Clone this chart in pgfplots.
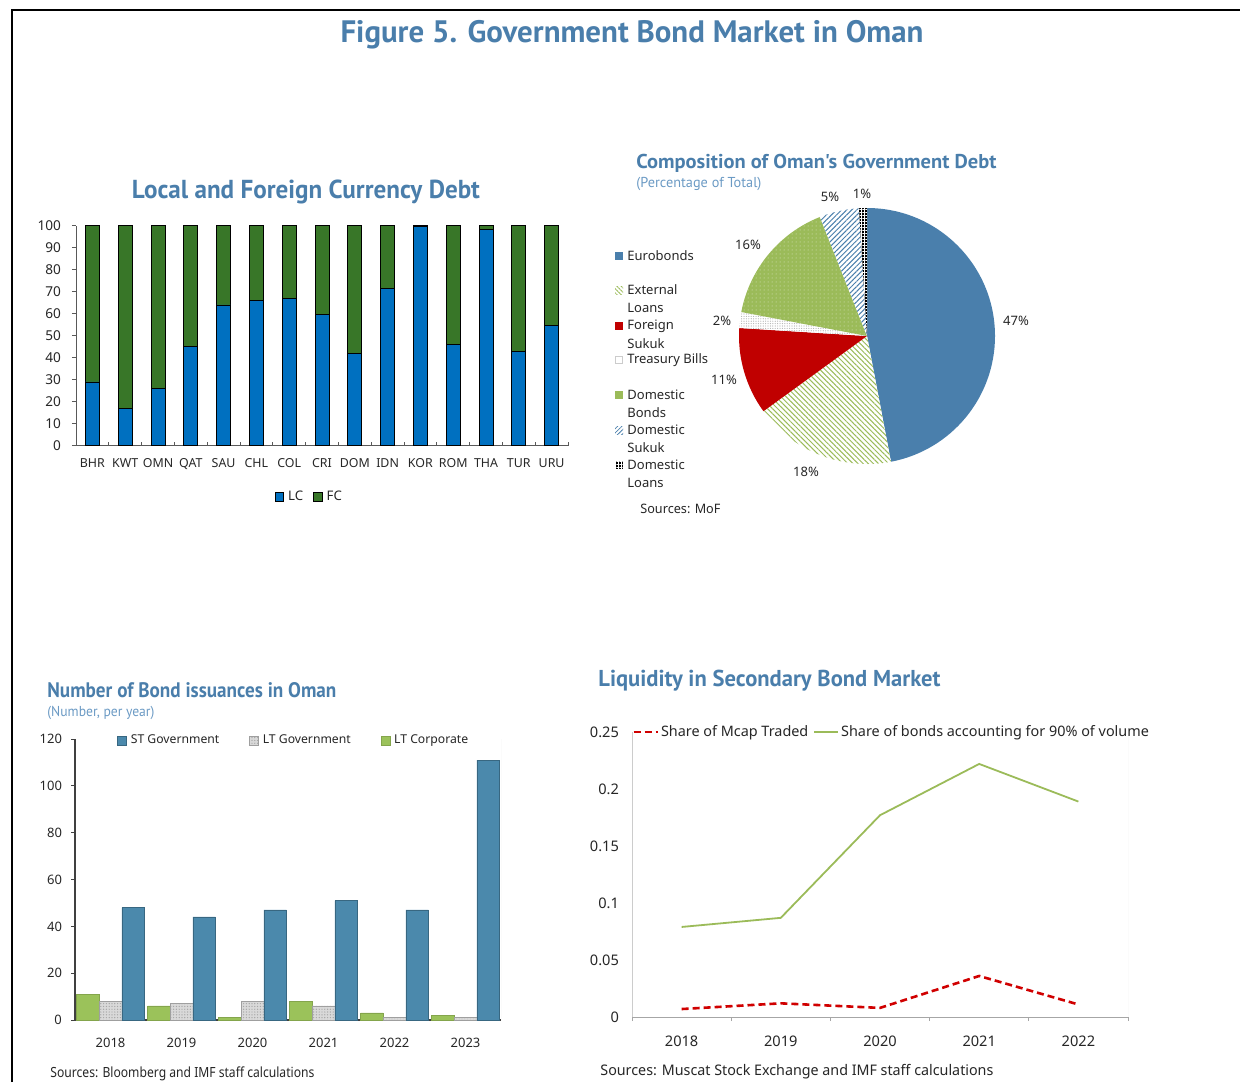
\documentclass[border=0pt]{standalone}
\usepackage{graphicx}
\usepackage{pgfplots}
\pgfplotsset{compat=1.18}
\usepackage{fontspec}
\usetikzlibrary{patterns,patterns.meta}
\setmainfont{Noto Sans}
\newfontfamily\titlefont{PT Sans}

\definecolor{titleblue}{HTML}{4A7EAB}
\definecolor{subblue}{HTML}{6B9AC4}
\definecolor{txt}{HTML}{262626}
\definecolor{lcblue}{HTML}{0070C0}
\definecolor{fcgreen}{HTML}{387628}
\definecolor{pieblue}{HTML}{4A7FAC}
\definecolor{piered}{HTML}{C00000}
\definecolor{piegreen}{HTML}{9BBB59}
\definecolor{stblue}{HTML}{4B89AC}
\definecolor{corpgreen}{HTML}{9BC25A}
\definecolor{linered}{HTML}{D00000}

\pgfplotsset{
  /pgf/number format/assume math mode=true,
  sqlegend/.style={legend image code/.code={\draw[##1] (0pt,-2.2pt) rectangle (4.4pt,2.2pt);}},
}
\newcommand\fitw[2]{\resizebox{#1}{\height}{#2}}
% one pie slice: start (cumulative %), share (%), style
\newcommand\slice[3]{\path[#3] (axis cs:0,0) -- ++({90-3.6*#1}:64pt)
  arc[start angle={90-3.6*#1}, end angle={90-3.6*(#1+#2)}, radius=64pt] -- cycle;}

\begin{document}
\begin{tikzpicture}[x=0.5pt,y=0.5pt, every node/.style={text=txt}]
\path[use as bounding box] (0,0) rectangle (1240,-1082);
\draw[line width=1pt] (12,-1082) -- (12,-10) -- (1240,-10);

\node[text=titleblue] at (632,-35) {\fitw{291.5pt}{\titlefont\bfseries\fontsize{15.5}{18}\selectfont Figure 5. Government Bond Market in Oman}};

% ---------- local and foreign currency debt
\node[text=titleblue] at (306,-192) {\fitw{174pt}{\titlefont\bfseries\fontsize{13}{15}\selectfont Local and Foreign Currency Debt}};
\begin{axis}[
    at={(38pt,-222.85pt)}, anchor=south west, scale only axis,
    width=246pt, height=110pt,
    xmin=-0.5, xmax=14.5, ymin=0, ymax=100,
    ybar stacked, bar width=7pt,
    axis x line*=bottom, axis y line*=left,
    axis line style={draw=black!65, line width=0.5pt},
    xtick={-0.5,0.5,...,14.5}, x tick label as interval,
    xticklabels={BHR,KWT,OMN,QAT,SAU,CHL,COL,CRI,DOM,IDN,KOR,ROM,THA,TUR,URU},
    ytick={0,10,...,100},
    tick style={draw=black!65, line width=0.5pt}, major tick length=2pt,
    xtick align=inside, ytick align=outside,
    tick label style={font=\fontsize{6.8}{8}\selectfont, text=txt},
    x tick label style={yshift=-3pt, font=\fontsize{6.2}{8}\selectfont},
    y tick label style={xshift=-2pt},
    legend style={at={(0.476,-0.233)}, anchor=center, draw=none, fill=none,
      legend columns=2, font=\fontsize{6.6}{8}\selectfont,
      /tikz/every even column/.append style={column sep=3pt}},
  ]
  \addplot[fill=lcblue, draw=black, line width=0.4pt, sqlegend] coordinates {
    (0,29) (1,17) (2,26) (3,45) (4,64) (5,66) (6,67) (7,59.5) (8,42) (9,71.5)
    (10,99.5) (11,46) (12,98.5) (13,43) (14,54.5)};
  \addlegendentry{LC}
  \addplot[fill=fcgreen, draw=black, line width=0.4pt, sqlegend] coordinates {
    (0,71) (1,83) (2,74) (3,55) (4,36) (5,34) (6,33) (7,40.5) (8,58) (9,28.5)
    (10,0.5) (11,54) (12,1.5) (13,57) (14,45.5)};
  \addlegendentry{FC}
\end{axis}

% ---------- composition pie
\node[anchor=west, inner sep=0, text=titleblue] at (636,-163) {\fitw{180pt}{\titlefont\bfseries\fontsize{10}{12}\selectfont Composition of Oman's Government Debt}};
\node[anchor=west, inner sep=0, text=subblue] at (636,-184) {\fitw{62.5pt}{\titlefont\fontsize{7.2}{9}\selectfont (Percentage of Total)}};
\begin{axis}[
    at={(433.5pt,-168pt)}, anchor=center, scale only axis,
    width=128pt, height=128pt,
    xmin=-1, xmax=1, ymin=-1, ymax=1, hide axis, clip=false,
  ]
  \slice{0}{47}{fill=pieblue}
  \slice{47}{18}{fill=white, postaction={pattern={Lines[angle=-45,distance=1.8pt,line width=0.5pt]}, pattern color=piegreen}}
  \slice{65}{11}{fill=piered}
  \slice{76}{2}{fill=white, postaction={pattern={Dots[distance=1.2pt,radius=0.3pt]}, pattern color=gray!60}}
  \slice{78}{16}{fill=piegreen, postaction={pattern={Dots[distance=2pt,radius=0.25pt]}, pattern color=white!70!piegreen}}
  \slice{94}{5}{fill=white, postaction={pattern={Lines[angle=45,distance=1.8pt,line width=0.5pt]}, pattern color=pieblue}}
  \slice{99}{1}{fill=black, postaction={pattern={Hatch[angle=0,distance=1.5pt,line width=0.3pt]}, pattern color=white}}
\end{axis}
\begin{scope}[every node/.style={font=\fontsize{6.5}{8}\selectfont, text=txt}]
  \node at (1016,-321) {47\%};
  \node at (806,-472) {18\%};
  \node at (724,-380) {11\%};
  \node at (722,-321) {2\%};
  \node at (748,-245) {16\%};
  \node at (830,-197) {5\%};
  \node at (862,-194) {1\%};
\end{scope}
\begin{scope}[every node/.style={font=\fontsize{6.5}{8}\selectfont, text=txt, anchor=west, inner sep=0}]
  \fill[pieblue] (615,-252) rectangle (623,-260);
  \node at (627,-256) {Eurobonds};
  \path[fill=white, postaction={pattern={Lines[angle=-45,distance=1.5pt,line width=0.4pt]}, pattern color=piegreen}] (615,-286) rectangle (623,-294);
  \node at (627,-290) {External};
  \node at (627,-308) {Loans};
  \fill[piered] (615,-322) rectangle (623,-330);
  \node at (627,-326) {Foreign};
  \node at (627,-344) {Sukuk};
  \draw[gray!40, line width=0.3pt, fill=white] (615.5,-356.5) rectangle (622.5,-363.5);
  \node at (627,-360) {Treasury Bills};
  \fill[piegreen] (615,-391) rectangle (623,-399);
  \node at (627,-395) {Domestic};
  \node at (627,-413) {Bonds};
  \path[fill=white, postaction={pattern={Lines[angle=45,distance=1.5pt,line width=0.4pt]}, pattern color=pieblue}] (615,-426) rectangle (623,-434);
  \node at (627,-430) {Domestic};
  \node at (627,-448) {Sukuk};
  \path[fill=black, postaction={pattern={Hatch[angle=0,distance=1.5pt,line width=0.3pt]}, pattern color=white}] (615,-461) rectangle (623,-469);
  \node at (627,-465) {Domestic};
  \node at (627,-483) {Loans};
  \node at (640,-509) {\fitw{40pt}{Sources: MoF}};
\end{scope}

% ---------- number of bond issuances
\node[anchor=west, inner sep=0, text=titleblue] at (47,-690) {\fitw{144.5pt}{\titlefont\bfseries\fontsize{10.5}{12}\selectfont Number of Bond issuances in Oman}};
\node[anchor=west, inner sep=0, text=subblue] at (47,-713) {\fitw{53.5pt}{\titlefont\fontsize{7.2}{9}\selectfont (Number, per year)}};
\begin{axis}[
    at={(37.5pt,-510pt)}, anchor=south west, scale only axis,
    width=213pt, height=140.5pt,
    xmin=-0.5, xmax=5.5, ymin=0, ymax=120,
    ybar=0pt, bar width=11.3pt,
    axis x line*=bottom, axis y line*=left,
    axis line style={draw=black!75, line width=0.6pt},
    xtick={0,...,5}, xticklabels={2018,2019,2020,2021,2022,2023},
    x tick style={draw=none},
    ytick={0,20,...,120}, ytick align=outside, major tick length=2pt,
    y tick style={draw=black!75, line width=0.5pt},
    tick label style={font=\fontsize{6.5}{8}\selectfont, text=txt},
    x tick label style={yshift=-3.5pt},
    y tick label style={xshift=-1pt},
    reverse legend,
    legend style={at={(0.516,0.993)}, anchor=center, draw=none, fill=none,
      legend columns=3, font=\fontsize{6.1}{8}\selectfont,
      /tikz/every even column/.append style={column sep=13pt}},
  ]
  \addplot[fill=corpgreen, draw=corpgreen!85!black, line width=0.3pt, sqlegend] coordinates {
    (0,11) (1,6) (2,1) (3,8) (4,3) (5,2)};
  \addlegendentry{LT Corporate}
  \addplot[fill=gray!30, draw=gray!75, line width=0.3pt,
    postaction={pattern={Dots[distance=1.4pt,radius=0.35pt]}, pattern color=gray!70}, sqlegend] coordinates {
    (0,8) (1,7) (2,8) (3,6) (4,1) (5,1)};
  \addlegendentry{LT Government}
  \addplot[fill=stblue, draw=stblue!75!black, line width=0.3pt, sqlegend] coordinates {
    (0,48) (1,44) (2,47) (3,51) (4,47) (5,111)};
  \addlegendentry{ST Government}
  \draw[gray!25, line width=0.5pt] (rel axis cs:1,0) -- (rel axis cs:1,1);
\end{axis}
\node[anchor=west, inner sep=0] at (50,-1074) {\fitw{132pt}{\fontsize{7}{8}\selectfont Sources: Bloomberg and IMF staff calculations}};

% ---------- liquidity in secondary bond market
\node[anchor=west, inner sep=0, text=titleblue] at (598,-681) {\fitw{171pt}{\titlefont\bfseries\fontsize{11.5}{13}\selectfont Liquidity in Secondary Bond Market}};
\begin{axis}[
    at={(316pt,-508.5pt)}, anchor=south west, scale only axis,
    width=248pt, height=142.5pt,
    xmin=-0.5, xmax=4.5, ymin=0, ymax=0.25,
    axis x line*=bottom, axis y line*=left,
    x axis line style={draw=gray!70, line width=0.5pt},
    y axis line style={draw=gray!40, line width=0.5pt},
    xtick={-0.5,0.5,...,4.5}, x tick label as interval,
    xticklabels={2018,2019,2020,2021,2022},
    x tick style={draw=gray!70, line width=0.5pt}, xtick align=outside, major tick length=2pt,
    ytick={0,0.05,0.1,0.15,0.2,0.25}, yticklabels={0,0.05,0.1,0.15,0.2,0.25},
    y tick style={draw=none},
    tick label style={font=\fontsize{7.3}{9}\selectfont, text=txt},
    x tick label style={yshift=-4pt},
    y tick label style={xshift=-3pt},
    legend image code/.code={\draw[#1] (0pt,0pt) -- (12pt,0pt);},
    legend style={at={(0,1)}, anchor=west, draw=none, fill=none, inner sep=0pt,
      legend columns=2, font=\fontsize{7.2}{9}\selectfont,
      nodes={inner sep=1pt},
      /tikz/every even column/.append style={column sep=1.5pt}},
  ]
  \addplot[color=linered, line width=1.3pt, dash pattern=on 3.5pt off 2pt, mark=none] coordinates {
    (0,0.007) (1,0.012) (2,0.008) (3,0.036) (4,0.011)};
  \addlegendentry{Share of Mcap Traded}
  \addplot[color=piegreen, line width=0.9pt, mark=none] coordinates {
    (0,0.079) (1,0.087) (2,0.177) (3,0.222) (4,0.189)};
  \addlegendentry{Share of bonds accounting for 90\% of volume}
  \draw[gray!25, line width=0.5pt] (rel axis cs:1,0) -- (rel axis cs:1,1);
\end{axis}
\node[anchor=west, inner sep=0] at (600,-1072) {\fitw{196.5pt}{\fontsize{7.3}{9}\selectfont Sources: Muscat Stock Exchange and IMF staff calculations}};
\end{tikzpicture}
\end{document}
